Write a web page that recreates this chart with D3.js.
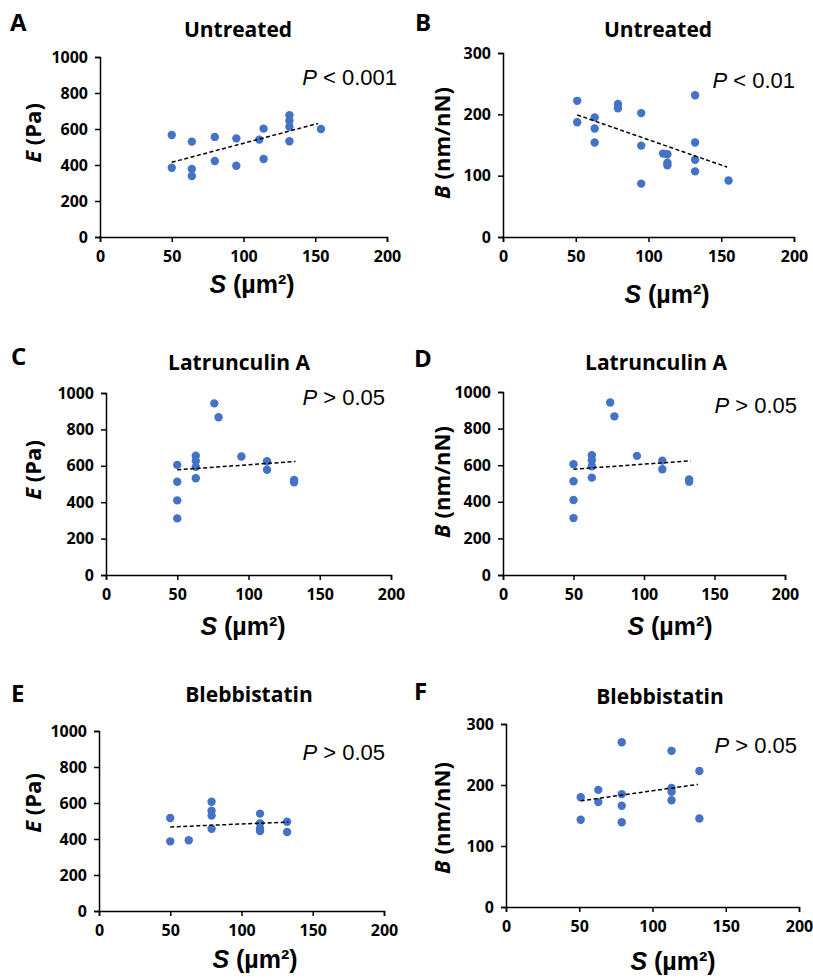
<!DOCTYPE html>
<meta charset="utf-8">
<head>
    <title>Stiffness vs area</title>
    <script type="text/javascript" src="https://cdn.jsdelivr.net/npm/d3@7"></script>
    <style>
        body { margin: 0; padding: 0; background: white; }
        text { font-family: "Open Sans", "Liberation Sans", sans-serif; }
    </style>
</head>
<body>
<script>
    const width = 813, height = 979;

    // Data
    const xTicks = [0, 50, 100, 150, 200];
    const eTicks = [0, 200, 400, 600, 800, 1000];
    const bTicks = [0, 100, 200, 300];

    const untreatedS_E = [50, 50, 64, 64, 64, 80, 80, 95, 95, 111, 114, 114, 132, 132, 132, 132, 154];
    const untreatedE = [567, 385, 530, 378, 339, 556, 422, 548, 396, 541, 602, 433, 676, 646, 613, 532, 600];
    const untreatedTrendE = [[50, 415], [152, 631]];

    const untreatedS_B = [51, 51, 63, 63, 63, 79, 79, 95, 95, 95, 110, 113, 113, 113, 132, 132, 132, 132, 155];
    const untreatedB = [222, 187, 195, 177, 154, 217, 210, 202, 149, 87, 136, 135, 121, 117, 231, 154, 126, 107, 92];
    const untreatedTrendB = [[51, 199], [154, 114]];

    const latS = [50, 50, 50, 50, 63, 63, 63, 63, 76, 79, 95, 113, 113, 132, 132];
    const latE = [605, 512, 410, 311, 655, 627, 594, 532, 943, 867, 651, 625, 578, 522, 510];
    const latTrend = [[50, 578], [133, 624]];

    const blebS_E = [50, 50, 63, 79, 79, 79, 79, 113, 113, 113, 113, 132, 132];
    const blebE = [517, 387, 393, 607, 557, 530, 457, 541, 487, 459, 444, 496, 439];
    const blebTrendE = [[50, 467], [133, 494]];

    const blebS_B = [51, 51, 63, 63, 79, 79, 79, 79, 113, 113, 113, 113, 132, 132];
    const blebB = [180, 143, 192, 172, 270, 185, 166, 139, 256, 195, 189, 175, 223, 145];
    const blebTrendB = [[51, 174], [131, 201]];

    const panels = [
        {letter: "A", title: "Untreated", p: " < 0.001", yVar: "E", yUnit: " (Pa)",
         xs: untreatedS_E, ys: untreatedE, trend: untreatedTrendE, yMax: 1000, yTicks: eTicks,
         box: [100, 387, 57, 237], letterPos: [10, 31], titlePos: [238, 37], pPos: [397, 85],
         yLabPos: [33, 133], xLabPos: [252, 293]},
        {letter: "B", title: "Untreated", p: " < 0.01", yVar: "B", yUnit: " (nm/nN)",
         xs: untreatedS_B, ys: untreatedB, trend: untreatedTrendB, yMax: 300, yTicks: bTicks,
         box: [503, 794, 53, 237], letterPos: [415, 31], titlePos: [658, 37], pPos: [795, 88],
         yLabPos: [442, 143], xLabPos: [667, 303]},
        {letter: "C", title: "Latrunculin A", p: " > 0.05", yVar: "E", yUnit: " (Pa)",
         xs: latS, ys: latE, trend: latTrend, yMax: 1000, yTicks: eTicks,
         box: [106, 391, 393, 575], letterPos: [11, 365], titlePos: [239, 370], pPos: [385, 405],
         yLabPos: [33, 470], xLabPos: [243, 635]},
        {letter: "D", title: "Latrunculin A", p: " > 0.05", yVar: "B", yUnit: " (nm/nN)",
         xs: latS, ys: latE, trend: latTrend, yMax: 1000, yTicks: eTicks,
         box: [503, 785, 392, 575], letterPos: [414, 367], titlePos: [656, 370], pPos: [797, 413],
         yLabPos: [442, 482], xLabPos: [670, 635]},
        {letter: "E", title: "Blebbistatin", p: " > 0.05", yVar: "E", yUnit: " (Pa)",
         xs: blebS_E, ys: blebE, trend: blebTrendE, yMax: 1000, yTicks: eTicks,
         box: [99, 384, 731, 911], letterPos: [11, 702], titlePos: [249, 702], pPos: [385, 760],
         yLabPos: [33, 803], xLabPos: [255, 968]},
        {letter: "F", title: "Blebbistatin", p: " > 0.05", yVar: "B", yUnit: " (nm/nN)",
         xs: blebS_B, ys: blebB, trend: blebTrendB, yMax: 300, yTicks: bTicks,
         box: [506, 799, 724, 907], letterPos: [414, 700], titlePos: [660, 704], pPos: [797, 753],
         yLabPos: [442, 818], xLabPos: [673, 970]}
    ];

    const svg = d3.select("body")
        .append("svg")
        .attr("width", width)
        .attr("height", height);

    panels.forEach(pn => {
        const [x0, x1, yTop, yBot] = pn.box;
        const x = d3.scaleLinear().domain([0, 200]).range([x0, x1]);
        const y = d3.scaleLinear().domain([0, pn.yMax]).range([yBot, yTop]);
        const g = svg.append("g");

        // axes
        const xAxis = g.append("g")
            .attr("transform", `translate(0,${yBot})`)
            .call(d3.axisBottom(x).tickValues(xTicks).tickFormat(d3.format("d")).tickSize(5).tickPadding(9));
        const yAxis = g.append("g")
            .attr("transform", `translate(${x0},0)`)
            .call(d3.axisLeft(y).tickValues(pn.yTicks).tickFormat(d3.format("d")).tickSize(5).tickPadding(7));
        [xAxis, yAxis].forEach(a => {
            a.select(".domain").attr("stroke", "#000").attr("stroke-width", 1.5);
            a.selectAll(".tick line").attr("stroke", "#000").attr("stroke-width", 1.5);
            a.selectAll(".tick text")
                .attr("fill", "#000")
                .style("font-size", "16px")
                .style("font-weight", "bold")
                .style("font-family", "'Open Sans', sans-serif");
        });

        // points
        g.selectAll("circle")
            .data(pn.xs.map((d, i) => [d, pn.ys[i]]))
            .enter()
            .append("circle")
            .attr("cx", d => x(d[0]))
            .attr("cy", d => y(d[1]))
            .attr("r", 4.2)
            .attr("fill", "#4472C4");

        // trend line
        g.append("line")
            .attr("x1", x(pn.trend[0][0])).attr("y1", y(pn.trend[0][1]))
            .attr("x2", x(pn.trend[1][0])).attr("y2", y(pn.trend[1][1]))
            .attr("stroke", "#000")
            .attr("stroke-width", 1.5)
            .attr("stroke-dasharray", "4,2.5");

        // panel letter
        g.append("text")
            .attr("x", pn.letterPos[0]).attr("y", pn.letterPos[1])
            .style("font-size", "24px").style("font-weight", "bold")
            .text(pn.letter);

        // title
        g.append("text")
            .attr("x", pn.titlePos[0]).attr("y", pn.titlePos[1])
            .attr("text-anchor", "middle")
            .style("font-size", "21px").style("font-weight", "bold")
            .text(pn.title);

        // P value
        const pt = g.append("text")
            .attr("x", pn.pPos[0]).attr("y", pn.pPos[1])
            .attr("text-anchor", "end")
            .style("font-size", "22px")
            .style("font-family", "'Liberation Sans', Arial, sans-serif");
        pt.append("tspan").style("font-style", "italic").text("P");
        pt.append("tspan").text(pn.p);

        // y label
        const yl = g.append("text")
            .attr("transform", `translate(${pn.yLabPos[0]},${pn.yLabPos[1]}) rotate(-90)`)
            .attr("text-anchor", "middle")
            .attr("dy", "0.35em")
            .style("font-size", "22px").style("font-weight", "bold");
        yl.append("tspan").style("font-style", "italic").text(pn.yVar);
        yl.append("tspan").text(pn.yUnit);

        // x label
        const xl = g.append("text")
            .attr("x", pn.xLabPos[0]).attr("y", pn.xLabPos[1])
            .attr("text-anchor", "middle")
            .style("font-size", "25px").style("font-weight", "bold")
            .style("font-family", "'Liberation Sans', Arial, sans-serif");
        xl.append("tspan").style("font-style", "italic").text("S");
        xl.append("tspan").text(" (µm²)");
    });
</script>
</body>
</html>
